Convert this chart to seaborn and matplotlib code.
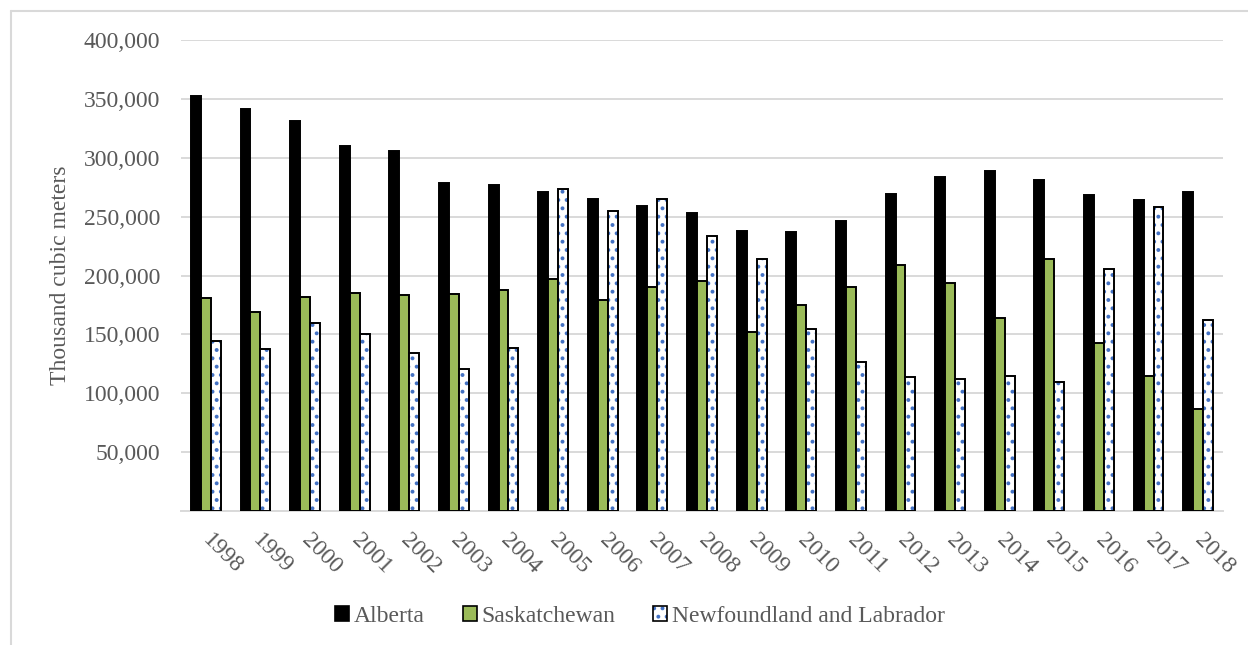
import matplotlib
matplotlib.use("Agg")
import matplotlib.pyplot as plt
import seaborn as sns
import pandas as pd
from matplotlib.patches import Rectangle, Patch
from matplotlib.lines import Line2D
from matplotlib.legend_handler import HandlerTuple
from matplotlib.ticker import FuncFormatter, MultipleLocator

years = [str(y) for y in range(1998, 2019)]
provinces = ["Alberta", "Saskatchewan", "Newfoundland and Labrador"]
alberta = [352200, 341700, 330800, 309600, 305600, 278800, 276800, 271100, 264600, 258700,
           253000, 238000, 237200, 246200, 269400, 283900, 288600, 281000, 268300, 263800, 270800]
saskatchewan = [180600, 169000, 181700, 184800, 183700, 184600, 187600, 197300, 179500, 190200,
                195000, 152300, 174600, 190200, 208800, 193600, 163800, 213900, 142600, 114300, 86300]
newfoundland = [144000, 137900, 159300, 150600, 134100, 120900, 138700, 273100, 255000, 264600,
                233200, 213700, 154200, 126800, 114100, 112000, 114300, 109500, 205400, 258100, 161900]
y_label = "Thousand cubic meters"

colors = {"Alberta": "#000000", "Saskatchewan": "#9BBB59", "Newfoundland and Labrador": "#FFFFFF"}
dot_color = "#4472C4"
text_color = "#595959"
grid_color = "#D9D9D9"

df = pd.DataFrame({
    "Year": years * 3,
    "Province": [provinces[0]] * 21 + [provinces[1]] * 21 + [provinces[2]] * 21,
    "Value": alberta + saskatchewan + newfoundland,
})

sns.set_style("white")
plt.rcParams["font.family"] = ["Liberation Serif", "DejaVu Serif"]
plt.rcParams["hatch.linewidth"] = 1.6

fig = plt.figure(figsize=(12.48, 6.45), dpi=100)
ax = fig.add_axes([181 / 1248, 1 - 511 / 645, (1223 - 181) / 1248, (511 - 40) / 645])

sns.barplot(data=df, x="Year", y="Value", hue="Province", hue_order=provinces,
            palette=colors, width=0.6, gap=0, edgecolor="black", linewidth=1.4,
            saturation=1, ax=ax, legend=False, zorder=3)

# NL bars: blue dotted fill with black outline
for bar in ax.containers[2]:
    bar.set_hatch("..")
    bar.set_edgecolor(dot_color)
    bar.set_linewidth(0)
    ax.add_patch(Rectangle(bar.get_xy(), bar.get_width(), bar.get_height(), fill=False,
                           edgecolor="black", linewidth=1.4, zorder=4))

ax.set_ylim(0, 400000)
ax.set_xlim(-0.5, len(years) - 0.5)
ax.yaxis.set_major_locator(MultipleLocator(50000))
ax.yaxis.set_major_formatter(FuncFormatter(lambda v, p: "" if v == 0 else f"{int(v):,}"))
ax.grid(axis="y", color=grid_color, linewidth=1.4, zorder=0)
ax.set_axisbelow(True)
for s in ["top", "right", "left"]:
    ax.spines[s].set_visible(False)
ax.spines["bottom"].set_color(grid_color)
ax.spines["bottom"].set_linewidth(1.4)

ax.tick_params(axis="y", length=0, pad=15, labelsize=17, labelcolor=text_color)
ax.tick_params(axis="x", length=0, pad=19, labelsize=17, labelcolor=text_color)
for lab in ax.get_xticklabels():
    lab.set_rotation(-45)
    lab.set_ha("left")
    lab.set_va("center")
    lab.set_rotation_mode("anchor")

ax.set_xlabel("")
ax.set_ylabel(y_label, fontsize=17, color=text_color, labelpad=9)

handles = [
    Patch(facecolor=colors["Alberta"], edgecolor="black", linewidth=1.2),
    Patch(facecolor=colors["Saskatchewan"], edgecolor="black", linewidth=1.2),
    (Patch(facecolor="white", edgecolor=dot_color, linewidth=0, hatch=".."),
     Patch(fill=False, edgecolor="black", linewidth=1.2)),
]
leg = fig.legend(handles, provinces, loc="center", bbox_to_anchor=(640 / 1248, 1 - 616 / 645),
                 ncol=3, frameon=False, fontsize=17, handlelength=0.6, handleheight=0.6,
                 handletextpad=0.2, columnspacing=1.6, labelcolor=text_color,
                 handler_map={tuple: HandlerTuple(ndivide=1, pad=0)})

# outer chart frame
fig.add_artist(Line2D([11 / 1248, 11 / 1248], [0, 1 - 11 / 645], color=grid_color,
                      linewidth=1.5, transform=fig.transFigure))
fig.add_artist(Line2D([11 / 1248, 1], [1 - 11 / 645, 1 - 11 / 645], color=grid_color,
                      linewidth=1.5, transform=fig.transFigure))

fig.savefig("out.png", dpi=100)
